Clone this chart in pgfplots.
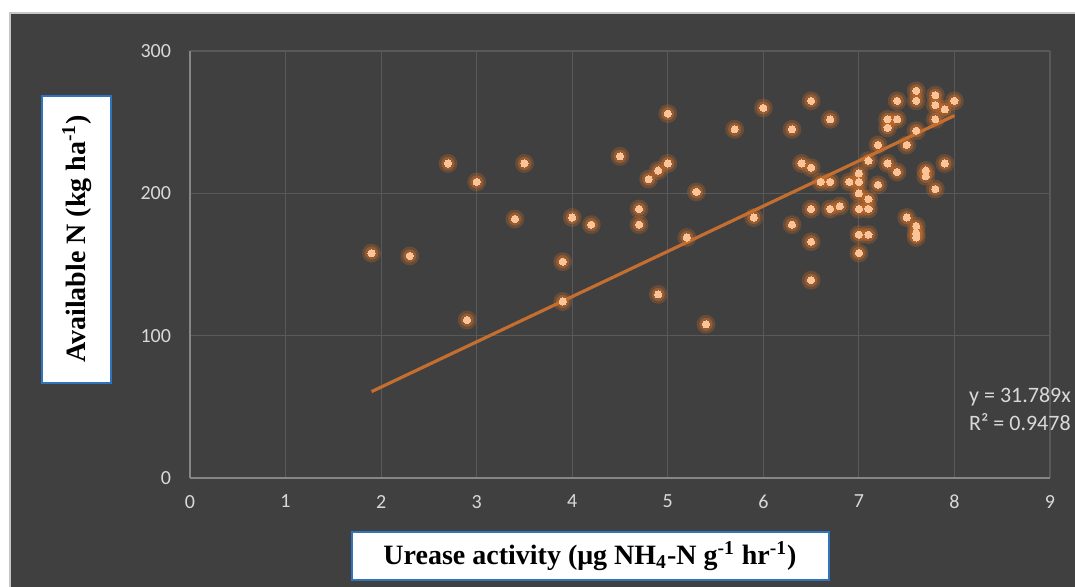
\documentclass[border=0pt]{standalone}
\usepackage{pgfplots}
\pgfplotsset{compat=1.18}
\usepackage{pgfplotstable}
\usepackage{fontspec}
\setmainfont{Carlito}
\newfontfamily\timesfont{Liberation Serif}
\definecolor{bgdark}{RGB}{64,64,64}
\definecolor{gridcol}{RGB}{89,89,89}
\definecolor{axiscol}{RGB}{134,134,134}
\definecolor{tickcol}{RGB}{217,217,217}
\definecolor{glowcol}{RGB}{205,110,40}
\definecolor{dotcol}{RGB}{250,196,152}
\definecolor{trendcol}{RGB}{196,110,48}
\definecolor{boxblue}{RGB}{46,117,190}

% urease activity vs available N
\pgfplotstableread{
x y
1.9 158
2.3 156
2.7 221
2.9 111
3.0 208
3.4 182
3.5 221
3.9 152
3.9 124
4.0 183
4.2 178
4.5 226
4.7 189
4.7 178
4.8 210
4.9 216
4.9 129
5.0 221
5.0 256
5.2 169
5.3 201
5.4 108
5.7 245
5.9 183
6.0 260
6.3 245
6.3 178
6.4 221
6.5 265
6.5 218
6.5 189
6.5 166
6.5 139
6.6 208
6.7 252
6.7 208
6.7 189
6.8 191
6.9 208
7.0 214
7.0 208
7.0 200
7.0 189
7.0 171
7.0 158
7.1 223
7.1 196
7.1 189
7.1 171
7.2 234
7.2 206
7.3 252
7.3 246
7.3 221
7.4 265
7.4 252
7.4 215
7.5 234
7.5 183
7.6 272
7.6 265
7.6 244
7.6 177
7.6 172
7.6 169
7.7 216
7.7 212
7.8 269
7.8 262
7.8 252
7.8 203
7.9 259
7.9 221
8.0 265
}\ureasedata

\begin{document}
\begin{tikzpicture}
\clip (0,0) rectangle (537.5pt,-293.5pt);
\fill[white] (0,0) rectangle (537.5pt,-293.5pt);
\filldraw[fill=bgdark, draw=gray!45, line width=0.6pt] (5pt,-6.5pt) rectangle (545pt,-300pt);

\begin{axis}[
  at={(95pt,-239pt)}, anchor=origin,
  scale only axis, width=430pt, height=213.5pt,
  xmin=0, xmax=9, ymin=0, ymax=300,
  xtick={0,1,...,9}, ytick={0,100,200,300},
  grid=major, grid style={gridcol, line width=0.6pt},
  axis x line*=bottom, axis y line*=left,
  axis line style={axiscol, line width=0.9pt, -},
  major tick length=0pt,
  /pgf/number format/assume math mode=true,
  tick label style={font=\fontsize{10}{12}\selectfont, text=tickcol},
  xticklabel style={yshift=-5pt},
  yticklabel style={xshift=-6pt},
  clip=false,
  glow/.style={only marks, mark=*,
    mark options={fill=glowcol, draw=glowcol, draw opacity=0, line width=0pt, fill opacity=#1}},
]
% soft glow behind the markers
\addplot[glow=0.28, mark size=4.7pt] table[x=x,y=y] {\ureasedata};
\addplot[glow=0.45, mark size=3.3pt] table[x=x,y=y] {\ureasedata};
% trend line
\addplot[trendcol, line width=1.6pt] coordinates {(1.9,60.7) (8.0,254.6)};
% markers
\addplot[only marks, mark=*, mark size=1.8pt,
  mark options={fill=dotcol, draw=dotcol, line width=0pt}] table[x=x,y=y] {\ureasedata};

\node[anchor=west, text=tickcol, font=\fontsize{11}{13}\selectfont] at (axis cs:8.08,57) {y = 31.789x};
\node[anchor=west, text=tickcol, font=\fontsize{11}{13}\selectfont] at (axis cs:8.08,39.5) {R² = 0.9478};
\end{axis}

% axis title boxes
\filldraw[fill=white, draw=boxblue, line width=1pt] (21pt,-48pt) rectangle (55.5pt,-191.5pt);
\node[rotate=90, font=\timesfont\bfseries\fontsize{14}{16}\selectfont] at (38.5pt,-119.5pt)
  {Available N (kg ha\textsuperscript{-1})};
\filldraw[fill=white, draw=boxblue, line width=1pt] (176pt,-266pt) rectangle (414.5pt,-290pt);
\node[font=\timesfont\bfseries\fontsize{14}{16}\selectfont] at (295pt,-278pt)
  {Urease activity (μg NH\textsubscript{4}-N g\textsuperscript{-1} hr\textsuperscript{-1})};
\end{tikzpicture}
\end{document}
